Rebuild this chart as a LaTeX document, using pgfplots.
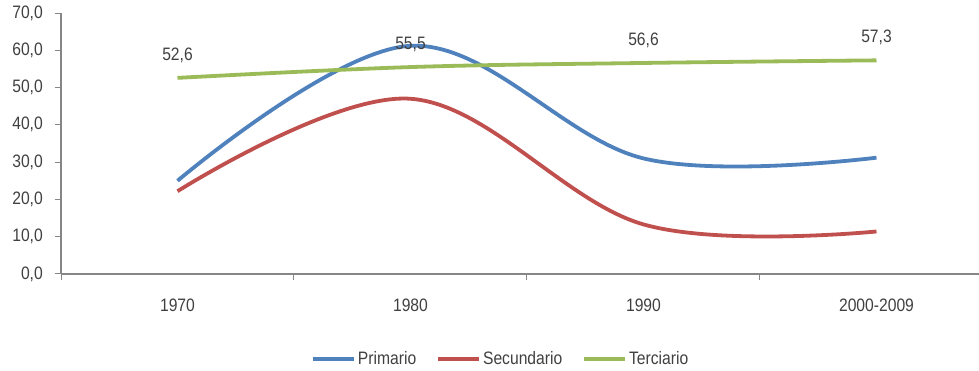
\documentclass[border=0pt]{standalone}
\usepackage{pgfplots}
\pgfplotsset{compat=1.18}
\usepackage{fontspec}
\setmainfont{Liberation Sans}[FakeStretch=0.87]
\definecolor{cblue}{HTML}{4F81BD}
\definecolor{cred}{HTML}{C0504D}
\definecolor{cgreen}{HTML}{9BBB59}
\definecolor{axgray}{HTML}{868686}
\definecolor{txt}{HTML}{404040}
\begin{document}
\fontsize{18}{21}\selectfont
\begin{tikzpicture}[x=1pt,y=1pt]
\path[use as bounding box] (-61,-97) rectangle (918,274);
\begin{axis}[
  scale only axis, width=918pt, height=261pt,
  at={(0,0)}, anchor=south west,
  xmin=-0.5, xmax=3.44, ymin=0, ymax=70,
  axis lines=left,
  axis line style={-},
  x axis line style={axgray, line width=2.5pt},
  y axis line style={axgray, line width=1.3pt},
  tick align=outside,
  tick pos=left,
  major tick length=6pt,
  tick style={axgray, line width=1pt},
  xtick={-0.5,0.5,1.5,2.5},
  xticklabels={},
  extra x ticks={0,1,2,3},
  extra x tick labels={1970,1980,1990,2000-2009},
  extra x tick style={major tick length=0pt, tick label style={yshift=-19pt}},
  ytick={0,10,...,70},
  yticklabel style={/pgf/number format/fixed, /pgf/number format/fixed zerofill, /pgf/number format/precision=1, /pgf/number format/use comma, /pgf/number format/assume math mode=true, xshift=-6pt},
  ticklabel style={font=\fontsize{18}{21}\selectfont, text=txt},
  legend style={at={(0.479,-0.326)}, anchor=center, draw=none, fill=none,
    legend columns=3, font=\fontsize{18}{21}\selectfont, text=txt,
    /tikz/every even column/.append style={column sep=18pt},
    nodes={inner xsep=2pt}},
  legend image code/.code={\draw[#1, line width=3.8pt] (0pt,0pt) -- (41pt,0pt);},
  every axis plot/.append style={line width=3.8pt, smooth, tension=0.6},
  clip=false,
]
\addplot[cblue] coordinates {(0,25.0) (1,61.2) (2,31.0) (3,31.2)};
\addlegendentry{Primario}
\addplot[cred] coordinates {(0,22.2) (1,47.0) (2,13.3) (3,11.4)};
\addlegendentry{Secundario}
\addplot[cgreen, nodes near coords={\pgfmathprintnumber[fixed,fixed zerofill,precision=1,use comma,assume math mode=true]{\pgfplotspointmeta}},
  every node near coord/.append style={anchor=center, yshift=23pt, font=\fontsize{18}{21}\selectfont, text=txt}]
  coordinates {(0,52.6) (1,55.5) (2,56.6) (3,57.3)};
\addlegendentry{Terciario}
\end{axis}
\end{tikzpicture}
\end{document}
